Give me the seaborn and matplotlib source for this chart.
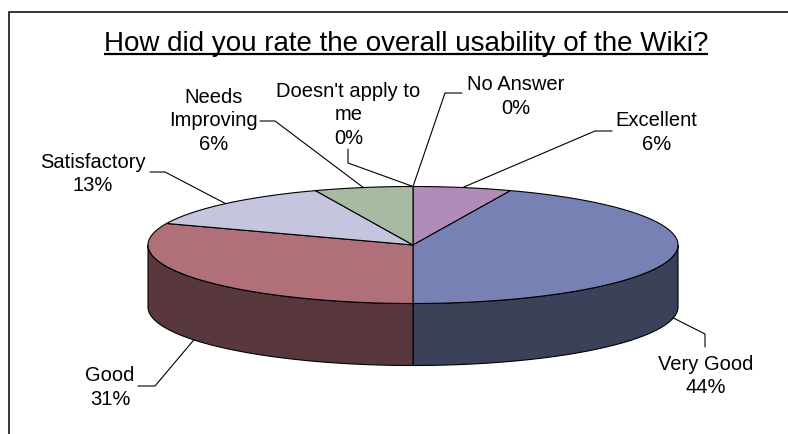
import numpy as np
import matplotlib
matplotlib.use("Agg")
import matplotlib.pyplot as plt
from matplotlib.patches import Polygon
from matplotlib import font_manager
import matplotlib.colors as mcolors
import seaborn as sns

# ---------------- data ----------------
categories = ["No Answer", "Excellent", "Very Good", "Good", "Satisfactory",
              "Needs Improving", "Doesn't apply to me"]
label_texts = ["No Answer", "Excellent", "Very Good", "Good", "Satisfactory",
               "Needs\nImproving", "Doesn't apply to\nme"]
percents = [0, 6, 44, 31, 13, 6, 0]
slice_colors = ["#BBBBBB", "#B28CB9", "#7781B4", "#B0707A", "#C5C5E0",
                "#A8BAA2", "#BBBBBB"]
title = "How did you rate the overall usability of the Wiki?"

# ---------------- layout ----------------
CX, CY, RX, RY, DEPTH = 413, 246, 265, 58.5, 62
label_pos = {
    "No Answer": (516, 96.5),
    "Excellent": (656.5, 132.5),
    "Very Good": (706, 376),
    "Good": (110, 387.5),
    "Satisfactory": (93, 174),
    "Needs Improving": (213.5, 121),
    "Doesn't apply to me": (348.5, 115),
}
leader_path = {
    "No Answer": [(445, 94), (462, 94)],
    "Excellent": [(595, 132), (612, 132)],
    "Very Good": [(705, 335), (705, 348)],
    "Good": [(155, 387), (138, 387)],
    "Satisfactory": [(165, 173), (150, 173)],
    "Needs Improving": [(275, 122), (260, 122)],
    "Doesn't apply to me": [(348, 164), (348, 150)],
}

sns.set_theme(style="white")
plt.rcParams['font.family'] = ['Liberation Sans', 'DejaVu Sans']

names = {f.name for f in font_manager.fontManager.ttflist}
title_family = 'Liberation Sans Narrow' if 'Liberation Sans Narrow' in names else 'Liberation Sans'

fig = plt.figure(figsize=(7.88, 4.35), dpi=100)
ax = fig.add_axes([0, 0, 1, 1])
ax.set_xlim(0, 788)
ax.set_ylim(435, 0)
ax.axis('off')


def rim(theta_deg, drop=0.0):
    t = np.radians(theta_deg)
    return CX + RX * np.sin(t), CY - RY * np.cos(t) + drop


total = float(sum(percents))
bounds = np.concatenate([[0.0], np.cumsum(percents)]) / total * 360.0

# side walls (front half only)
for i, col in enumerate(slice_colors):
    a0, a1 = bounds[i], bounds[i + 1]
    lo, hi = max(a0, 90.0), min(a1, 270.0)
    if hi <= lo:
        continue
    arc = np.linspace(lo, hi, 120)
    tx, ty = rim(arc)
    bx, by = rim(arc[::-1], DEPTH)
    pts = np.column_stack([np.concatenate([tx, bx]), np.concatenate([ty, by])])
    dark = np.array(mcolors.to_rgb(col)) * 0.5
    ax.add_patch(Polygon(pts, closed=True, facecolor=dark, edgecolor='black',
                         linewidth=0.8, joinstyle='round'))

# top faces
for i, col in enumerate(slice_colors):
    a0, a1 = bounds[i], bounds[i + 1]
    if a1 <= a0:
        continue
    arc = np.linspace(a0, a1, 200)
    x, y = rim(arc)
    pts = np.column_stack([np.concatenate([[CX], x]), np.concatenate([[CY], y])])
    ax.add_patch(Polygon(pts, closed=True, facecolor=col, edgecolor='black',
                         linewidth=0.8, joinstyle='round'))

# labels with leader lines
for i, cat in enumerate(categories):
    a0, a1 = bounds[i], bounds[i + 1]
    mid = (a0 + a1) / 2.0
    drop = DEPTH if 90 < mid < 270 else 0.0
    sx, sy = rim(mid, drop)
    path = [(sx, sy)] + leader_path[cat]
    ax.plot([p[0] for p in path], [p[1] for p in path], color='black', lw=0.8)
    lx, ly = label_pos[cat]
    ax.text(lx, ly, f"{label_texts[i]}\n{percents[i]}%", ha='center', va='center',
            fontsize=14.5, color='black', linespacing=1.32)

# title with underline
t = ax.text(406, 44, title, ha='center', va='center', fontsize=16,
            family=title_family, color='black')
fig.canvas.draw()
r = fig.canvas.get_renderer()
bb = t.get_window_extent(r)
t.set_fontsize(16 * 606.0 / bb.width)
fig.canvas.draw()
bb = t.get_window_extent(r)
inv = ax.transData.inverted()
(x0, _), (x1, _) = inv.transform([(bb.x0, bb.y0), (bb.x1, bb.y0)])
ax.plot([x0, x1], [54.5, 54.5], color='black', lw=1.6, solid_capstyle='butt')

# chart-area frame (left and top edges visible)
ax.plot([9.5, 9.5, 788], [435, 12.5, 12.5], color='black', lw=1.1,
        solid_joinstyle='miter')

fig.savefig("out.png", dpi=100)
